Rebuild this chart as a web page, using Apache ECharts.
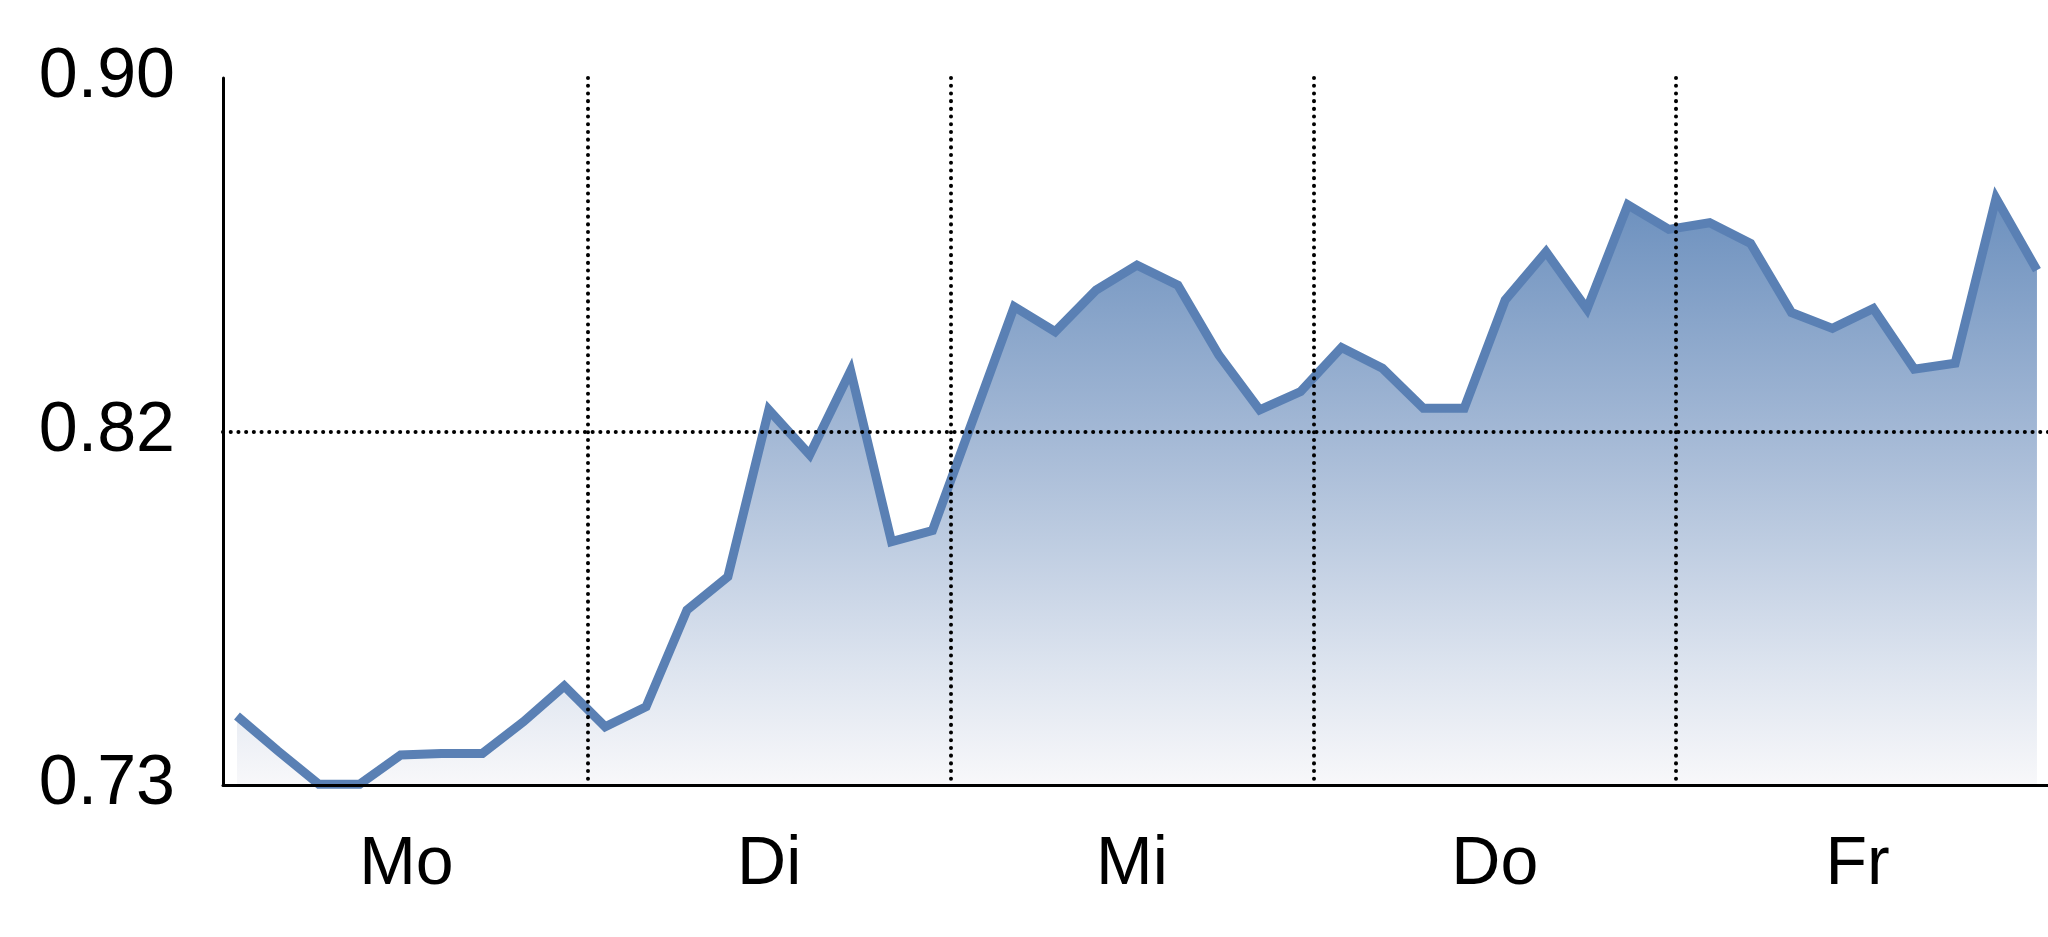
<!DOCTYPE html>
<html>
<head>
<meta charset="utf-8">
<script src="https://cdn.jsdelivr.net/npm/echarts@6/dist/echarts.min.js"></script>
<style>
  html, body { margin: 0; padding: 0; background: #ffffff; }
  #chart { width: 2048px; height: 937px; }
</style>
</head>
<body>
<div id="chart"></div>
<script>
// ---- data ----
const days = ['Mo', 'Di', 'Mi', 'Do', 'Fr'];
const values = [
  0.7466, 0.7382, 0.7302, 0.7302, 0.7372, 0.7376, 0.7376, 0.7452, 0.7538,
  0.7440, 0.7488, 0.7721, 0.7801, 0.8202, 0.8094, 0.8296, 0.7885, 0.7912,
  0.8181, 0.8450, 0.8390, 0.8490, 0.8550, 0.8502, 0.8334, 0.8202, 0.8246,
  0.8352, 0.8302, 0.8206, 0.8206, 0.8466, 0.8582, 0.8444, 0.8695, 0.8636,
  0.8652, 0.8602, 0.8436, 0.8398, 0.8446, 0.8300, 0.8314, 0.8711, 0.8538
];
const yTickValues = [0.73, 0.815, 0.90];
const yTickLabels = ['0.73', '0.82', '0.90'];

const FONT = '"Liberation Sans Narrow", "Arial Narrow", "Liberation Sans", Arial, sans-serif';
const dotted = { color: '#000000', width: 4, type: [0.1, 7.6], cap: 'round', opacity: 1 };

const chart = echarts.init(document.getElementById('chart'), null, { renderer: 'canvas' });
chart.setOption({
  animation: false,
  backgroundColor: '#ffffff',
  grid: [
    { left: 223, right: 0, top: 78, bottom: 152, containLabel: false },
    { left: 225, right: 9, top: 78, bottom: 152, containLabel: false }
  ],
  xAxis: [
    {
      type: 'value', gridIndex: 0, min: -0.342, max: 44.27, z: 10,
      axisLine: { show: true, onZero: false, lineStyle: { color: '#000', width: 3 } },
      axisTick: { show: false }, axisLabel: { show: false }, splitLine: { show: false }
    },
    {
      type: 'category', gridIndex: 1, data: days, boundaryGap: true, z: 10,
      axisLine: { show: false }, axisTick: { show: false },
      axisLabel: { show: true, color: '#000', fontSize: 68, fontFamily: FONT, margin: 46 },
      splitLine: { show: true, showMinLine: false, showMaxLine: false, lineStyle: dotted }
    }
  ],
  yAxis: [
    {
      type: 'value', gridIndex: 0, min: 0.73, max: 0.90, z: 10,
      axisLine: { show: true, onZero: false, lineStyle: { color: '#000', width: 3 } },
      axisTick: { show: false, customValues: yTickValues },
      axisLabel: {
        show: true, customValues: yTickValues, color: '#000', fontSize: 70, fontFamily: FONT,
        margin: 48, padding: [8, 0, 0, 0],
        formatter: function (v) {
          let best = 0;
          for (let i = 1; i < yTickValues.length; i++) {
            if (Math.abs(yTickValues[i] - v) < Math.abs(yTickValues[best] - v)) best = i;
          }
          return yTickLabels[best];
        }
      },
      splitLine: { show: true, showMinLine: false, showMaxLine: false, lineStyle: dotted }
    },
    {
      type: 'value', gridIndex: 1, min: 0, max: 1, show: false,
      splitLine: { show: false }
    }
  ],
  series: [
    {
      type: 'line', xAxisIndex: 0, yAxisIndex: 0,
      data: values.map((v, i) => [i, v]),
      showSymbol: false, clip: false, z: 3,
      lineStyle: { color: '#5a80b4', width: 9, join: 'miter' },
      areaStyle: {
        opacity: 1,
        color: new echarts.graphic.LinearGradient(0, 0, 0, 1, [
          { offset: 0, color: '#6c90be' },
          { offset: 0.4, color: '#a3b8d5' },
          { offset: 0.8, color: '#dde4ef' },
          { offset: 1, color: '#f8f8fa' }
        ])
      }
    }
  ]
});
</script>
</body>
</html>
